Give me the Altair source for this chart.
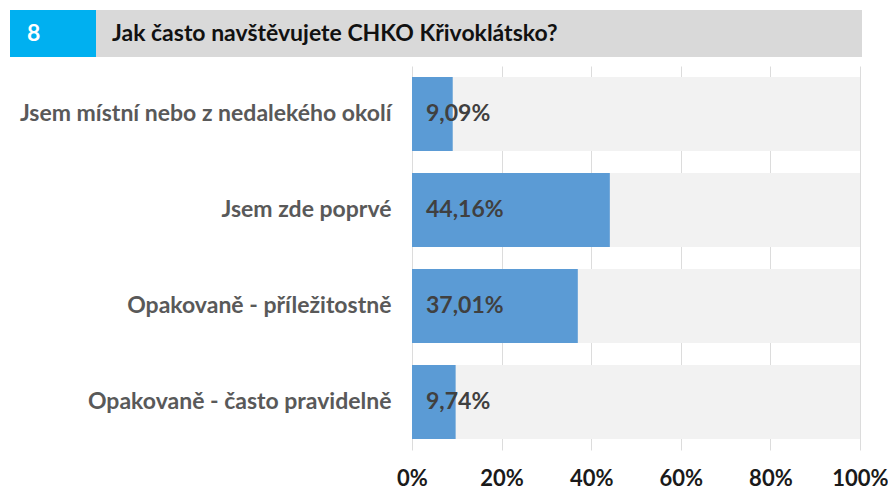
import altair as alt
import pandas as pd

categories = [
    "Jsem místní nebo z nedalekého okolí",
    "Jsem zde poprvé",
    "Opakovaně - příležitostně",
    "Opakovaně - často pravidelně",
]
values = [9.09, 44.16, 37.01, 9.74]
x_ticks = [0, 20, 40, 60, 80, 100]
question_number = "8"
question_title = "Jak často navštěvujete CHKO Křivoklátsko?"

FONT = "Lato"
FS = 23

df = pd.DataFrame({
    "cat": categories,
    "val": values,
    "full": [100] * len(values),
    "zero": [0] * len(values),
    "label": [f"{v:.2f}".replace(".", ",") + "%" for v in values],
})

y_enc = alt.Y("cat:N", sort=categories, title=None,
              scale=alt.Scale(paddingInner=0.23, paddingOuter=0.115))
x_scale = alt.Scale(domain=[0, 100], nice=False)

bg = alt.Chart(df).mark_bar(color="#f2f2f2").encode(
    x=alt.X("zero:Q", scale=x_scale, title=None,
            axis=alt.Axis(values=x_ticks, labelExpr="datum.value + '%'")),
    x2="full:Q",
    y=y_enc,
)

bars = alt.Chart(df).mark_bar(color="#5b9bd5").encode(
    x=alt.X("zero:Q", scale=x_scale),
    x2="val:Q",
    y=y_enc,
)

labels = alt.Chart(df).mark_text(
    align="left", baseline="middle", dx=14, font=FONT, fontSize=FS,
    fontWeight="bold", color="#404040"
).encode(
    x=alt.X("zero:Q", scale=x_scale),
    y=y_enc,
    text="label:N",
)

header_df = pd.DataFrame({"n": [question_number], "t": [question_title]})

header_gray = alt.Chart(header_df).mark_rect(color="#d9d9d9").encode(
    x=alt.value(-316), x2=alt.value(450), y=alt.value(-56), y2=alt.value(-9)
)
header_blue = alt.Chart(header_df).mark_rect(color="#00b0f0").encode(
    x=alt.value(-402), x2=alt.value(-316), y=alt.value(-56), y2=alt.value(-9)
)
header_num = alt.Chart(header_df).mark_text(
    align="left", baseline="middle", font=FONT, fontSize=FS, fontWeight="bold",
    color="white"
).encode(x=alt.value(-385), y=alt.value(-32), text="n:N")
header_title = alt.Chart(header_df).mark_text(
    align="left", baseline="middle", font=FONT, fontSize=FS, fontWeight="bold",
    color="#111111"
).encode(x=alt.value(-300), y=alt.value(-32), text="t:N")

chart = alt.layer(
    bg, bars, labels, header_gray, header_blue, header_num, header_title
).properties(
    width=448, height=384,
    autosize=alt.AutoSizeParams(type="none"),
    padding={"left": 404, "top": 58, "right": 28, "bottom": 40},
).configure_view(stroke=None).configure_axisX(
    grid=True, gridColor="#dcdcdc", gridWidth=1, domain=False, ticks=False,
    labelFont=FONT, labelFontSize=22, labelFontWeight="bold", labelColor="#1a1a1a",
    labelPadding=18, labelFlush=False,
).configure_axisY(
    grid=False, domain=False, ticks=False,
    labelFont=FONT, labelFontSize=FS, labelFontWeight="bold", labelColor="#595959",
    labelPadding=21, labelLimit=500,
)

chart.save("out.html", embed_options={"renderer": "svg", "actions": False})
